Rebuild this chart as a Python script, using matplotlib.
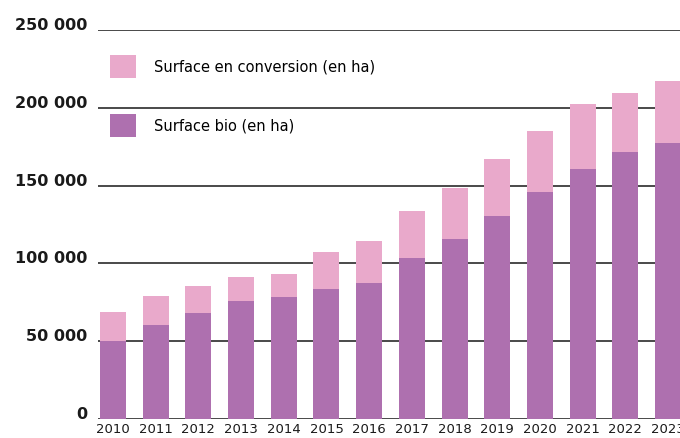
import matplotlib.pyplot as plt
import numpy as np

# surfaces in hectares, 2010-2023
years = [str(y) for y in range(2010, 2024)]
surface_bio = [50000, 60300, 68000, 75600, 78200, 83600, 87400,
               103500, 115700, 130500, 146000, 160700, 171700, 177500]
surface_conversion = [18600, 18600, 17300, 15400, 14800, 23800, 27000,
                      30200, 32800, 36700, 39200, 41800, 37900, 39800]
y_ticks = [0, 50000, 100000, 150000, 200000, 250000]
y_labels = ["0", "50 000", "100 000", "150 000", "200 000", "250 000"]

col_bio = "#AE70AF"
col_conv = "#E9A9CB"

plt.rcParams['font.family'] = ['DejaVu Sans']

fig = plt.figure(figsize=(6.8, 4.38), dpi=100)
ax = fig.add_axes([98 / 680, 19 / 438, 582 / 680, 389 / 438])

x = np.arange(len(years))
b_bio = ax.bar(x, surface_bio, width=0.61, color=col_bio, zorder=2)
b_conv = ax.bar(x, surface_conversion, width=0.61, bottom=surface_bio,
                color=col_conv, zorder=2)

ax.set_xlim(-0.35, 13.28)
ax.set_ylim(0, 250000)

# horizontal rules behind the bars
for yv in y_ticks:
    ax.axhline(yv, color="#3a3a3a", lw=1.3, zorder=1)

ax.set_yticks(y_ticks)
ax.set_yticklabels(y_labels, fontsize=11.5, fontweight="bold", color="#1a1a1a")
for lbl in ax.get_yticklabels():
    lbl.set_verticalalignment("baseline")
ax.tick_params(axis="y", length=0, pad=8)

ax.set_xticks(x)
ax.set_xticklabels(years, fontsize=9.5, color="#1a1a1a")
ax.tick_params(axis="x", length=0, pad=3)

for s in ax.spines.values():
    s.set_visible(False)

ax.legend([b_conv, b_bio], ["Surface en conversion (en ha)", "Surface bio (en ha)"],
          loc="upper left", bbox_to_anchor=(0.0206, 0.936), frameon=False,
          fontsize=10.5, handlelength=1.8, handleheight=2.1,
          handletextpad=1.25, labelspacing=2.42, borderpad=0, borderaxespad=0)

fig.savefig("out.png", dpi=100)
